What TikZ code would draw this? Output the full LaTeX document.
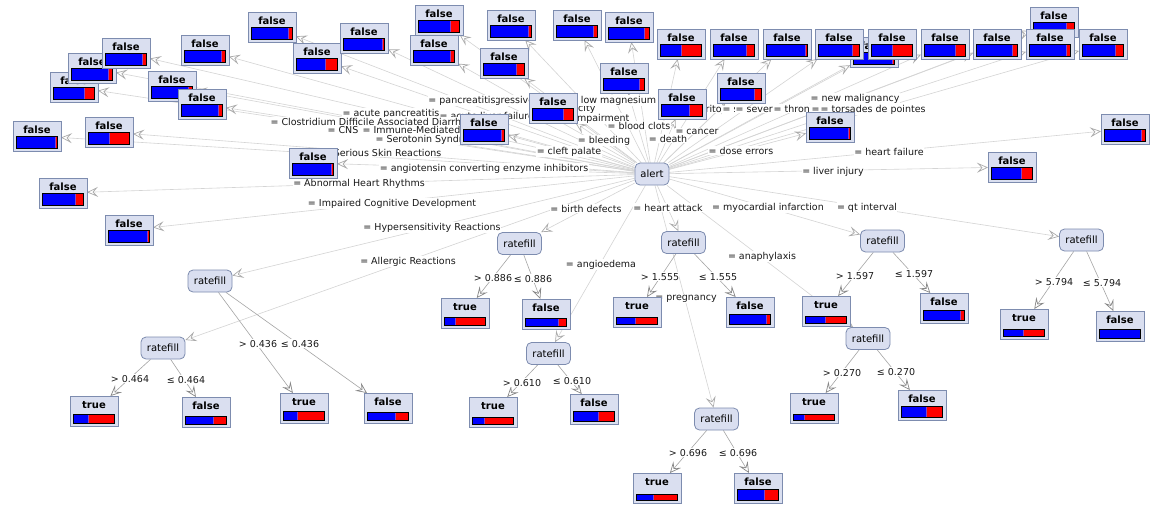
\documentclass[tikz,border=0pt]{standalone}
\usepackage{fontspec}
\setmainfont{DejaVu Sans}
\usetikzlibrary{arrows.meta}
\pgfdeclarelayer{bglayer}
\pgfdeclarelayer{edgelayer}
\pgfdeclarelayer{labellayer}
\pgfsetlayers{bglayer,edgelayer,labellayer,main}
\definecolor{boxfill}{RGB}{218,223,240}
\definecolor{boxline}{RGB}{125,140,175}
\definecolor{edgeroot}{RGB}{212,212,212}
\definecolor{edgesub}{RGB}{165,165,165}
\definecolor{arrowroot}{RGB}{170,170,170}
\definecolor{arrowsub}{RGB}{135,135,135}
\definecolor{barblue}{RGB}{0,0,255}
\definecolor{barred}{RGB}{255,0,0}
\definecolor{barsep}{RGB}{130,70,200}
\definecolor{lbltext}{RGB}{25,25,25}
\newcommand\lblfont{\fontsize{9.5}{11}\selectfont}
\newcommand\nodefont{\fontsize{10}{12}\selectfont}
\tikzset{
  leafst/.style={draw=boxline, fill=boxfill, line width=0.8pt, minimum width=48pt, minimum height=30pt, inner sep=0pt, outer sep=0pt},
  leaftext/.style={font=\nodefont\bfseries, inner sep=0pt, anchor=base},
  splitst/.style={draw=boxline, fill=boxfill, line width=0.8pt, rounded corners=5pt, minimum width=44pt, minimum height=22pt, inner sep=0pt, font=\nodefont},
  barframe/.style={draw=black, line width=0.9pt},
  rootedge/.style={draw=edgeroot, line width=0.6pt, -{Stealth[open, length=11pt, width=10pt, inset=4.5pt, color=arrowroot, line width=0.7pt]}},
  subedge/.style={draw=edgesub, line width=0.6pt, -{Stealth[open, length=11pt, width=10pt, inset=4.5pt, color=arrowsub, line width=0.7pt]}},
  lbl/.style={fill=white, inner xsep=0.4pt, inner ysep=0.8pt, font=\lblfont, text=lbltext, anchor=base},
  lblw/.style={lbl, anchor=base west},
  lble/.style={lbl, anchor=base east},
}
% name, x, y (top-left), text, red fraction, bar height
\newcommand\leaf[6]{%
  \node[leafst] (#1) at (#2+24,#3+15) {};
  \node[leaftext] (#1-t) at (#2+24,#3+12) {#4};
  \pgfmathsetmacro\barsplit{#2+3+41*(1-#5)}%
  \pgfmathsetmacro\bartop{#3+27.5-#6}%
  \fill[barblue] (#2+3,\bartop) rectangle (\barsplit,#3+27.5);
  \fill[barred] (\barsplit,\bartop) rectangle (#2+44,#3+27.5);
  \draw[barsep, line width=0.8pt] (\barsplit,\bartop) -- (\barsplit,#3+27.5);
  \draw[barframe] (#2+3,\bartop) rectangle (#2+44,#3+27.5);
}
\begin{document}
\begin{tikzpicture}[x=1pt,y=-1pt]
\useasboundingbox (0,0) rectangle (1166,523);
\begin{pgfonlayer}{bglayer}
\fill[white] (0,0) rectangle (1166,523);
\end{pgfonlayer}

% root
\node[splitst, minimum width=34pt] (alert) at (652,174) {alert};

% root leaves
\leaf{L6}{50}{72}{false}{0.23}{12.5}
\leaf{L5}{68}{53}{false}{0.10}{12.5}
\leaf{L4}{102}{38}{false}{0.10}{12.5}
\leaf{L7}{148}{71}{false}{0.08}{12.5}
\leaf{L8}{178}{89}{false}{0.10}{12.5}
\leaf{L3}{181}{35}{false}{0.08}{12.5}
\leaf{L1}{248}{12}{false}{0.10}{12.5}
\leaf{L2}{293}{43}{false}{0.28}{12.5}
\leaf{L9}{13}{121}{false}{0.04}{12.5}
\leaf{L10}{85}{117}{false}{0.47}{12.5}
\leaf{L11}{39}{178}{false}{0.18}{12.5}
\leaf{L12}{105}{215}{false}{0.05}{12.5}
\leaf{L13}{340}{23}{false}{0.05}{12.5}
\leaf{L14}{415}{5}{false}{0.22}{12.5}
\leaf{L15}{410}{35}{false}{0.10}{12.5}
\leaf{L16}{487}{10}{false}{0.06}{12.5}
\leaf{L17}{480}{48}{false}{0.18}{12.5}
\leaf{L18}{553}{10}{false}{0.08}{12.5}
\leaf{L19}{605}{12}{false}{0.11}{12.5}
\leaf{L20}{600}{63}{false}{0.11}{12.5}
\leaf{L21}{529}{93}{false}{0.23}{12.5}
\leaf{L22}{460}{114}{false}{0.06}{12.5}
\leaf{L23}{289}{148}{false}{0.05}{12.5}
\leaf{L24}{657}{29}{false}{0.49}{12.5}
\leaf{L25}{710}{29}{false}{0.19}{12.5}
\leaf{L26}{763}{29}{false}{0.04}{12.5}
\leaf{L28}{850}{37}{false}{0.05}{12.5}
\leaf{L27}{815}{29}{false}{0.17}{12.5}
\leaf{L29}{868}{29}{false}{0.48}{12.5}
\leaf{L30}{921}{29}{false}{0.23}{12.5}
\leaf{L31}{973}{29}{false}{0.11}{12.5}
\leaf{L32}{1030}{7}{false}{0.18}{12.5}
\leaf{L33}{1026}{29}{false}{0.08}{12.5}
\leaf{L34}{1079}{29}{false}{0.19}{12.5}
\leaf{L35}{717}{73}{false}{0.17}{12.5}
\leaf{L36}{658}{89}{false}{0.30}{12.5}
\leaf{L37}{806}{112}{false}{0.03}{12.5}
\leaf{L38}{1101}{114}{false}{0.10}{12.5}
\leaf{L39}{988}{152}{false}{0.27}{12.5}

% split nodes
\node[splitst] (R1) at (210,281) {ratefill};
\node[splitst] (R2) at (163,348) {ratefill};
\node[splitst] (R3) at (519.5,243.5) {ratefill};
\node[splitst] (R4) at (548.5,353.5) {ratefill};
\node[splitst] (R5) at (683.5,242.5) {ratefill};
\node[splitst] (R6) at (716.5,419) {ratefill};
\node[splitst] (R7) at (882.5,241) {ratefill};
\node[splitst] (R8) at (868,338.5) {ratefill};
\node[splitst] (R9) at (1081.5,240) {ratefill};

% subtree leaves
\leaf{TA1}{280}{393}{true}{0.64}{8.7}
\leaf{TB1}{364}{393}{false}{0.30}{8}
\leaf{TA2}{70}{396}{true}{0.63}{9}
\leaf{TB2}{182}{397}{false}{0.30}{7.7}
\leaf{TA3}{441}{298}{true}{0.71}{8}
\leaf{TB3}{522}{299}{false}{0.19}{8.3}
\leaf{TA4}{469}{397}{true}{0.70}{6.7}
\leaf{TB4}{570}{394}{false}{0.37}{10}
\leaf{TA5}{613}{297}{true}{0.52}{7}
\leaf{TB5}{726}{297}{false}{0.08}{9.7}
\leaf{TA6}{633}{473}{true}{0.57}{5.7}
\leaf{TB6}{734}{473}{false}{0.34}{10.7}
\leaf{TA7}{802}{296}{true}{0.51}{7}
\leaf{TB7}{920}{293}{false}{0.09}{9.7}
\leaf{TA8}{790}{393}{true}{0.73}{5.7}
\leaf{TB8}{898}{390}{false}{0.37}{11}
\leaf{TA9}{1000}{309}{true}{0.51}{6.7}
\leaf{TB9}{1096}{311}{false}{0}{9.3}

% connectors
\begin{pgfonlayer}{edgelayer}
\foreach \i in {1,...,39} \draw[rootedge] (alert) -- (L\i);
\foreach \i in {1,...,9} \draw[rootedge] (alert) -- (R\i);
\foreach \i in {1,...,9} {
  \draw[subedge] (R\i) -- (TA\i);
  \draw[subedge] (R\i) -- (TB\i);
}
\end{pgfonlayer}

% labels
\begin{pgfonlayer}{labellayer}
\node[lble] (lb01) at (596,111) {city};
\node[lblw] (lb02) at (494,103) {gressive};
\node[lbl]  (lb03) at (462,103) {= pancreatitis};
\node[lbl]  (lb04) at (613,103) {= low magnesium};
\node[lbl]  (lb05) at (391,116) {= acute pancreatitis};
\node[lblw] (lb06) at (439,119) {= acute liver failure};
\node[lble] (lb07) at (630,121) {= renal impairment};
\node[lbl]  (lb08) at (639,129) {= blood clots};
\node[lbl]  (lb09) at (604,143) {= bleeding};
\node[lbl]  (lb10) at (668,142) {= death};
\node[lbl]  (lb11) at (697,134) {= cancer};
\node[lbl]  (lb12) at (569,154) {= cleft palate};
\node[lbl]  (lb13) at (484,171) {= angiotensin converting enzyme inhibitors};
\node[lblw] (lb14) at (270,125) {= Clostridium Difficile Associated Diarrhea};
\node[lblw] (lb15) at (327,133) {= CNS r};
\node[lblw] (lb16) at (362,133) {= Immune-Mediated};
\node[lblw] (lb17) at (375,142) {= Serotonin Syndrome};
\node[lble] (lb18) at (442,156) {= Serious Skin Reactions};
\node[lbl]  (lb19) at (359,186) {= Abnormal Heart Rhythms};
\node[lbl]  (lb20) at (392,206) {= Impaired Cognitive Development};
\node[lbl]  (lb21) at (432,230) {= Hypersensitivity Reactions};
\node[lbl]  (lb22) at (408,264) {= Allergic Reactions};
\node[lbl]  (lb23) at (586,212) {= birth defects};
\node[lbl]  (lb24) at (668,211) {= heart attack};
\node[lbl]  (lb25) at (768,210) {= myocardial infarction};
\node[lbl]  (lb26) at (867,210) {= qt interval};
\node[lbl]  (lb27) at (601,267) {= angioedema};
\node[lbl]  (lb28) at (762,259) {= anaphylaxis};
\node[lbl]  (lb29) at (686,300) {= pregnancy};
\node[lbl]  (lb30) at (855,101) {= new malignancy};
\node[lblw] (lb31) at (705,112) {rito};
\node[lblw] (lb32) at (722,112) {= s};
\node[lblw] (lb33) at (735,112) {= sever};
\node[lblw] (lb34) at (773,112) {= thron};
\node[lblw] (lb35) at (811,112) {=};
\node[lblw] (lb36) at (820,112) {= torsades de pointes};
\node[lbl]  (lb37) at (741,154) {= dose errors};
\node[lbl]  (lb38) at (889,155) {= heart failure};
\node[lbl]  (lb39) at (833,174) {= liver injury};
% split labels
\node[lbl] (sa1) at (258,347) {> 0.436};
\node[lbl] (sb1) at (300,347) {≤ 0.436};
\node[lbl] (sa2) at (130,382) {> 0.464};
\node[lbl] (sb2) at (186,383) {≤ 0.464};
\node[lbl] (sa3) at (493,281) {> 0.886};
\node[lbl] (sb3) at (533,282) {≤ 0.886};
\node[lbl] (sa4) at (522,386) {> 0.610};
\node[lbl] (sb4) at (572,384) {≤ 0.610};
\node[lbl] (sa5) at (660,280) {> 1.555};
\node[lbl] (sb5) at (718,280) {≤ 1.555};
\node[lbl] (sa6) at (688,456) {> 0.696};
\node[lbl] (sb6) at (738,456) {≤ 0.696};
\node[lbl] (sa7) at (855,279) {> 1.597};
\node[lbl] (sb7) at (914,277) {≤ 1.597};
\node[lbl] (sa8) at (842,376) {> 0.270};
\node[lbl] (sb8) at (896,375) {≤ 0.270};
\node[lbl] (sa9) at (1054,285) {> 5.794};
\node[lbl] (sb9) at (1102,286) {≤ 5.794};
\end{pgfonlayer}
\end{tikzpicture}
\end{document}
